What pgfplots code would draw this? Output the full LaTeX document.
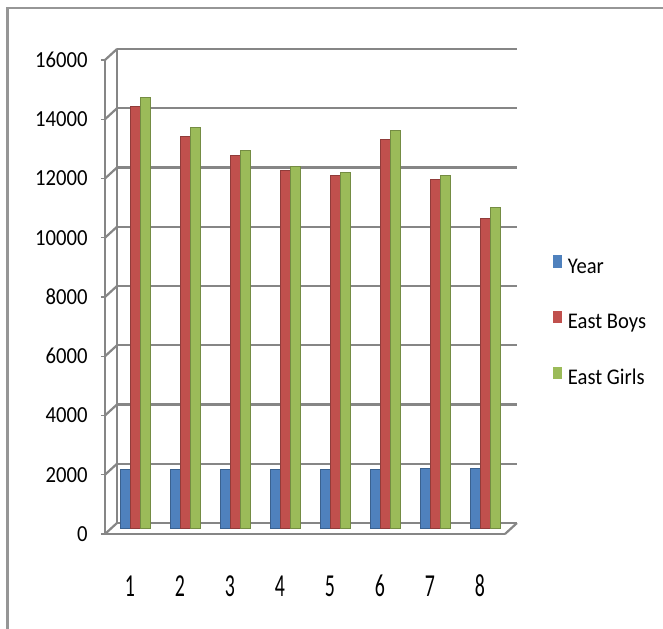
\documentclass[border=0pt]{standalone}
\usepackage{pgfplots}
\pgfplotsset{compat=1.18}
\usepackage{fontspec}
\setmainfont{Carlito}
\newfontfamily\ytickfont{Carlito}[FakeStretch=0.9]
\newfontfamily\xtickfont{Carlito}[FakeStretch=0.62]
\newfontfamily\legendfont{Carlito}[FakeStretch=0.92]

\definecolor{gridgray}{RGB}{134,134,134}
\definecolor{framegray}{RGB}{150,150,150}
\definecolor{yearblue}{RGB}{79,129,189}
\definecolor{boysred}{RGB}{192,80,77}
\definecolor{girlsgreen}{RGB}{155,187,89}

\tikzset{
  gridline/.style={draw=gridgray, line width=1.1bp},
  cylbar/.style={fill=#1, draw=#1!75!black, line width=0.5bp},
}

\begin{document}
\begin{tikzpicture}
\useasboundingbox (0,0) rectangle (331.5bp,314.5bp);
% outer frame of the chart area
\draw[framegray, line width=1.3bp] (3.75bp,-1bp) -- (3.75bp,310.5bp) -- (333bp,310.5bp);

% back wall: horizontal gridlines
\begin{axis}[
  at={(58.5bp,53bp)}, anchor=south west,
  scale only axis, width=200bp, height=237bp,
  xmin=0.5, xmax=8.5, ymin=0, ymax=16000,
  axis x line=none, axis y line*=left,
  y axis line style={gridgray, line width=0.8bp},
  ytick={0,2000,...,16000}, yticklabels={},
  scaled y ticks=false,
  major tick length=0pt,
  xtick=\empty,
  ymajorgrids, grid style={gridline},
]
\end{axis}

% columns at mid depth
\begin{axis}[
  at={(55.5bp,50.25bp)}, anchor=south west,
  scale only axis, width=200bp, height=237bp,
  xmin=0.5, xmax=8.5, ymin=0, ymax=16000,
  axis lines=none, clip=false, scaled y ticks=false,
  ybar=0pt, bar width=5bp,
  legend style={at={(1.105,0.4357)}, anchor=west, draw=none, fill=none,
    inner sep=0pt, outer sep=0pt, row sep=17bp,
    font=\legendfont\fontsize{11.2bp}{12bp}\selectfont,
    nodes={inner sep=0pt, text height=7.5bp, text depth=2bp},
    /tikz/every odd column/.append style={column sep=3bp}},
  legend cell align=left,
  legend image code/.code={\fill[#1, draw=none] (0bp,0bp) rectangle (4.5bp,6.2bp);},
]
\addplot[cylbar=yearblue] coordinates
  {(1,2003) (2,2004) (3,2005) (4,2006) (5,2007) (6,2008) (7,2009) (8,2010)};
\addplot[cylbar=boysred] coordinates
  {(1,14230) (2,13215) (3,12575) (4,12070) (5,11900) (6,13115) (7,11765) (8,10480)};
\addplot[cylbar=girlsgreen] coordinates
  {(1,14565) (2,13520) (3,12775) (4,12235) (5,12000) (6,13450) (7,11900) (8,10820)};
\legend{Year, East Boys, East Girls}
\end{axis}

% front axes, floor edge and tick labels
\begin{axis}[
  at={(52.5bp,47.5bp)}, anchor=south west,
  scale only axis, width=200bp, height=237bp,
  xmin=0.5, xmax=8.5, ymin=0, ymax=16000,
  axis lines*=left, clip=false,
  x axis line style={gridgray, line width=1.1bp},
  y axis line style={gridgray, line width=0.6bp},
  tick align=outside,
  ytick={0,2000,...,16000},
  ytick style={gridgray, line width=0.6bp},
  major tick length=2bp,
  xtick={1,...,8}, xticklabels={1,2,3,4,5,6,7,8},
  xtick style={draw=none},
  minor xtick={0.5,1.5,...,8.5},
  minor tick length=4.5bp,
  minor x tick style={gridgray, line width=0.7bp},
  /pgf/number format/assume math mode=true,
  scaled y ticks=false,
  yticklabel style={font=\ytickfont\fontsize{11.5bp}{12bp}\selectfont,
    anchor=east, inner sep=0pt, xshift=-6.5bp},
  xticklabel style={font=\xtickfont\fontsize{16bp}{17bp}\selectfont,
    anchor=center, inner sep=0pt, yshift=-24bp},
  yticklabel={\pgfmathprintnumber[fixed, 1000 sep={}]{\tick}},
]
% side wall and floor edges joining the front to the back wall
\pgfplotsinvokeforeach{0,2000,4000,6000,8000,10000,12000,14000,16000}{
  \draw[gridline] (axis cs:0.5,#1) -- ++(6bp,5.5bp);
}
\draw[gridline] (axis cs:8.5,0) -- ++(6bp,5.5bp);
\end{axis}
\end{tikzpicture}
\end{document}
